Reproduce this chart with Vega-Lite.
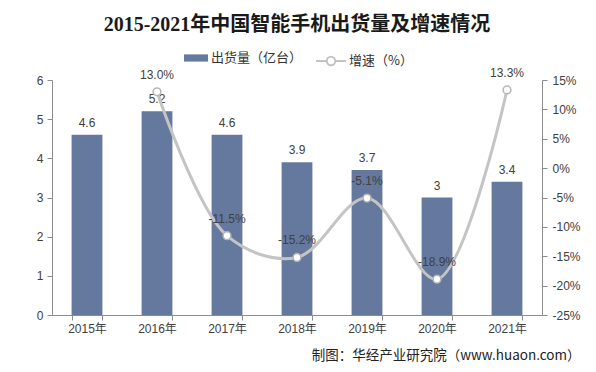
{
  "$schema": "https://vega.github.io/schema/vega-lite/v6.json",
  "width": 490,
  "height": 235,
  "autosize": {"type": "none"},
  "padding": {"left": 52, "top": 80, "right": 54, "bottom": 57},
  "background": "white",
  "title": {
    "text": "2015-2021年中国智能手机出货量及增速情况",
    "font": "Liberation Serif, Noto Sans CJK SC",
    "fontSize": 20,
    "fontWeight": "bold",
    "color": "#1a1a1a",
    "anchor": "middle",
    "frame": "group",
    "offset": 10
  },
  "config": {
    "locale": {"number": {"decimal": ".", "thousands": ",", "grouping": [3], "currency": ["$", ""], "minus": "-"}},
    "view": {"stroke": null},
    "axis": {"labelFont": "Liberation Sans, Noto Sans CJK SC", "labelFontSize": 12, "labelColor": "#404040", "domainColor": "#8c8c8c", "tickColor": "#8c8c8c", "grid": false, "labelOverlap": false},
    "legend": {"labelFont": "Noto Sans CJK SC", "labelFontSize": 13, "labelColor": "#333333"}
  },
  "data": {
    "values": [
      {"year": "2015年", "v": 4.6, "g": null},
      {"year": "2016年", "v": 5.2, "g": 0.13},
      {"year": "2017年", "v": 4.6, "g": -0.115},
      {"year": "2018年", "v": 3.9, "g": -0.152},
      {"year": "2019年", "v": 3.7, "g": -0.051},
      {"year": "2020年", "v": 3.0, "g": -0.189},
      {"year": "2021年", "v": 3.4, "g": 0.133}
    ]
  },
  "encoding": {
    "x": {
      "field": "year",
      "type": "nominal",
      "sort": null,
      "scale": {"paddingInner": 0.56, "paddingOuter": 0.28},
      "axis": {
        "labelAngle": 0,
        "tickBand": "extent",
        "tickSize": 5,
        "labelPadding": 3,
        "title": "制图：华经产业研究院（www.huaon.com）",
        "titleX": 528,
        "titleY": 40,
        "titleAlign": "right",
        "titleAnchor": null,
        "titleBaseline": "middle",
        "titleFont": "Noto Sans CJK SC",
        "titleFontSize": 13.5,
        "titleFontWeight": "normal",
        "titleColor": "#222222"
      }
    }
  },
  "layer": [
    {
      "layer": [
        {
          "mark": {"type": "bar"},
          "encoding": {
            "y": {
              "field": "v",
              "type": "quantitative",
              "scale": {"domain": [0, 6], "nice": false},
              "axis": {"orient": "left", "title": null, "values": [0, 1, 2, 3, 4, 5, 6], "tickSize": 5, "labelPadding": 4}
            },
            "color": {
              "datum": "出货量（亿台）",
              "scale": {"range": ["#65799F"]},
              "legend": {
                "orient": "none",
                "legendX": 131,
                "legendY": -35,
                "title": null,
                "padding": 0,
                "symbolType": "M-1,-0.3H1V0.3H-1Z",
                "symbolSize": 576,
                "labelOffset": 2
              }
            }
          }
        },
        {
          "mark": {"type": "text", "baseline": "bottom", "dy": -5, "font": "Liberation Sans", "fontSize": 12, "color": "#404040"},
          "encoding": {
            "y": {
              "field": "v",
              "type": "quantitative",
              "scale": {"domain": [0, 6], "nice": false},
              "axis": {"orient": "left", "title": null, "values": [0, 1, 2, 3, 4, 5, 6], "tickSize": 5, "labelPadding": 4}
            },
            "text": {"field": "v", "type": "quantitative"}
          }
        }
      ]
    },
    {
      "layer": [
        {
          "mark": {"type": "line", "interpolate": "catmull-rom", "strokeWidth": 3},
          "encoding": {
            "y": {
              "field": "g",
              "type": "quantitative",
              "scale": {"domain": [-0.25, 0.15], "nice": false},
              "axis": {"orient": "right", "title": null, "format": ".0%", "values": [-0.25, -0.2, -0.15, -0.1, -0.05, 0, 0.05, 0.1, 0.15], "tickSize": 5, "labelPadding": 5}
            },
            "color": {
              "datum": "增速（%）",
              "scale": {"range": ["#C4C4C4"]},
              "legend": {
                "orient": "none",
                "legendX": 263,
                "legendY": -35,
                "title": null,
                "padding": 0,
                "symbolType": "M-1,0H-0.28M0.28,0H1M-0.28,0A0.28,0.28 0 1,0 0.28,0A0.28,0.28 0 1,0 -0.28,0",
                "symbolSize": 900,
                "labelOffset": 2,
                "encode": {"symbols": {"update": {"fill": {"value": "white"}, "stroke": {"value": "#BDBDBD"}, "strokeWidth": {"value": 2}}}}
              }
            }
          }
        },
        {
          "mark": {"type": "point", "filled": true, "fill": "white", "stroke": "#B5B5B5", "strokeWidth": 1.5, "size": 60, "opacity": 1},
          "encoding": {
            "y": {
              "field": "g",
              "type": "quantitative",
              "scale": {"domain": [-0.25, 0.15], "nice": false},
              "axis": {"orient": "right", "title": null, "format": ".0%", "values": [-0.25, -0.2, -0.15, -0.1, -0.05, 0, 0.05, 0.1, 0.15], "tickSize": 5, "labelPadding": 5}
            }
          }
        },
        {
          "mark": {"type": "text", "baseline": "bottom", "dy": -10, "font": "Liberation Sans", "fontSize": 12, "color": "#404040"},
          "encoding": {
            "y": {
              "field": "g",
              "type": "quantitative",
              "scale": {"domain": [-0.25, 0.15], "nice": false},
              "axis": {"orient": "right", "title": null, "format": ".0%", "values": [-0.25, -0.2, -0.15, -0.1, -0.05, 0, 0.05, 0.1, 0.15], "tickSize": 5, "labelPadding": 5}
            },
            "text": {"field": "g", "type": "quantitative", "format": ".1%"}
          }
        }
      ]
    }
  ],
  "resolve": {"scale": {"y": "independent", "color": "independent"}}
}
